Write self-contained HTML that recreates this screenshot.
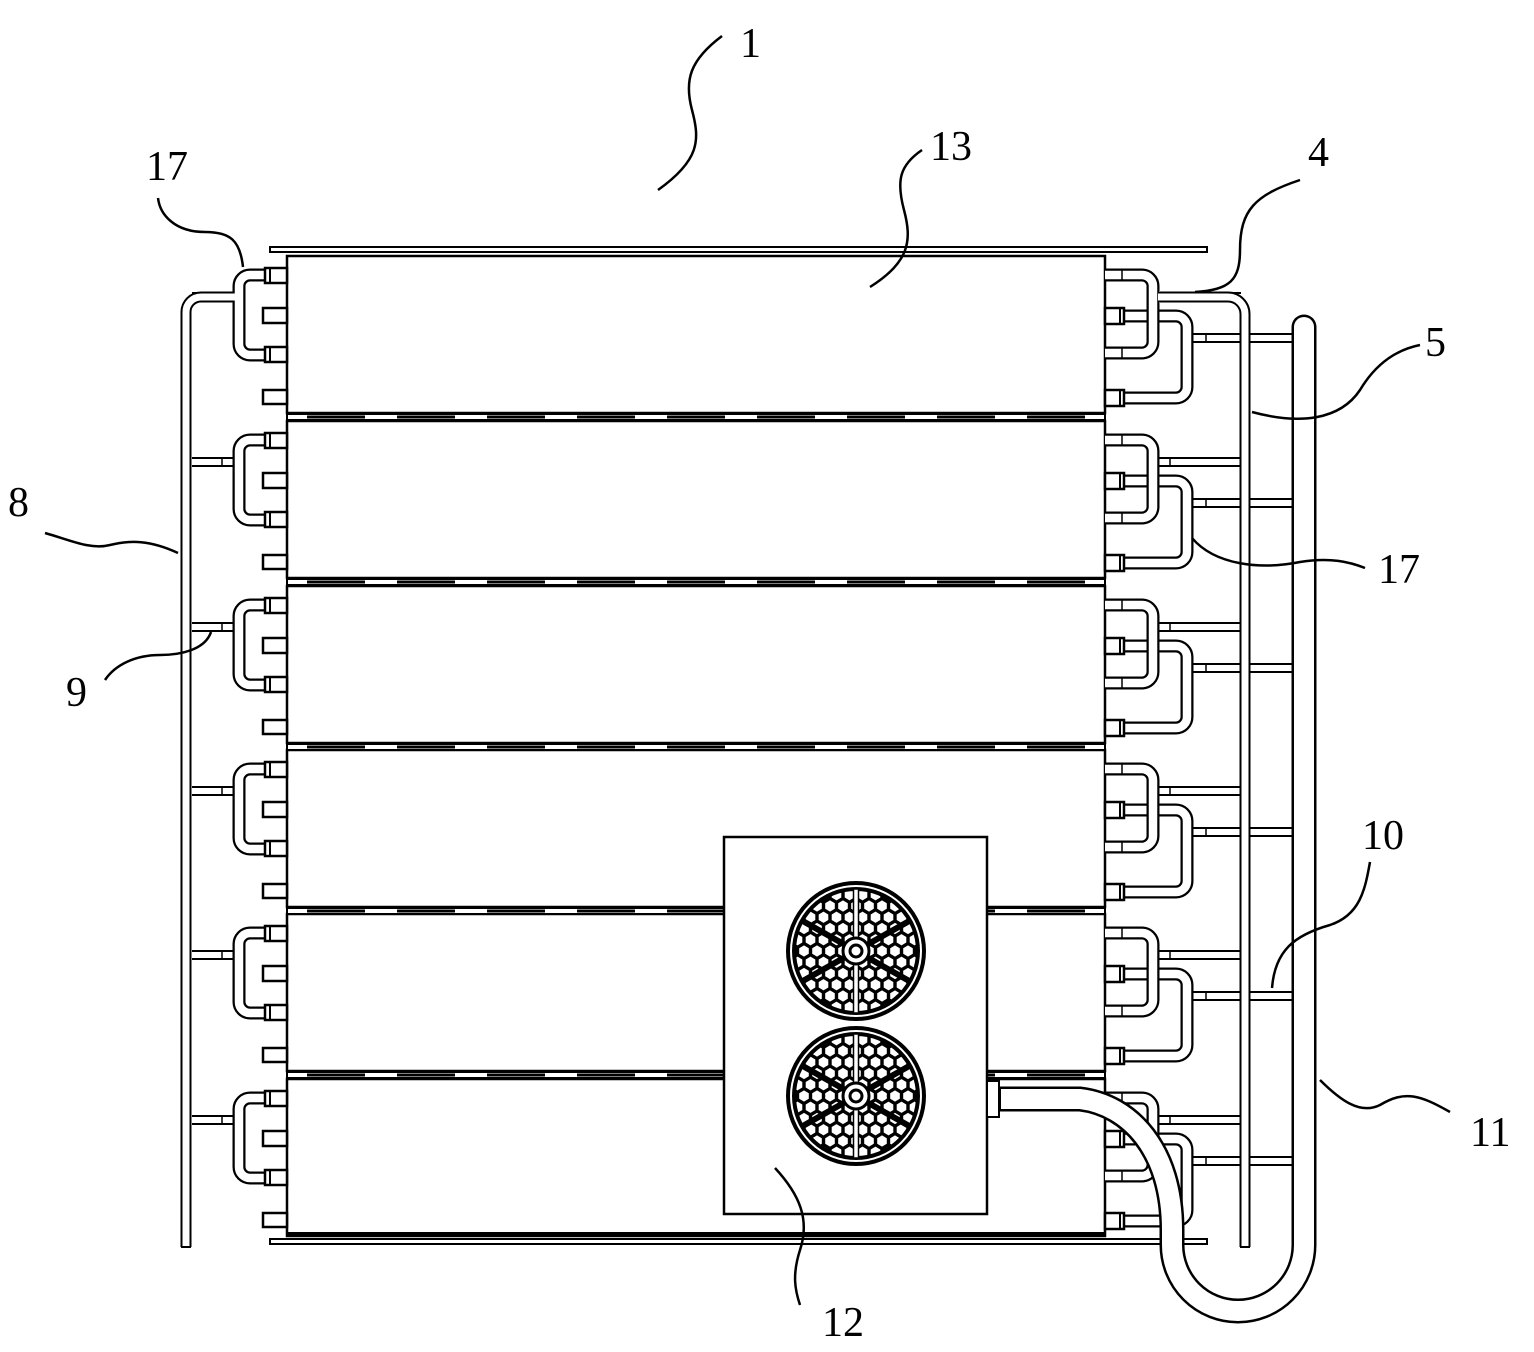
<!DOCTYPE html>
<html><head><meta charset="utf-8"><style>
html,body{margin:0;padding:0;background:#fff}
svg{display:block}
text{font-family:"Liberation Serif","Noto Serif CJK SC",serif;font-size:42px;fill:#000}
</style></head><body>
<svg width="1534" height="1352" viewBox="0 0 1534 1352" xmlns="http://www.w3.org/2000/svg">
<defs>
<pattern id="hex" width="13" height="22.5" patternUnits="userSpaceOnUse">
<rect width="13" height="22.5" fill="#000"/>
<g fill="#fff">
<polygon points="0,-5.6 4.8,-2.8 4.8,2.8 0,5.6 -4.8,2.8 -4.8,-2.8"/>
<polygon transform="translate(13,0)" points="0,-5.6 4.8,-2.8 4.8,2.8 0,5.6 -4.8,2.8 -4.8,-2.8"/>
<polygon transform="translate(6.5,11.25)" points="0,-5.6 4.8,-2.8 4.8,2.8 0,5.6 -4.8,2.8 -4.8,-2.8"/>
<polygon transform="translate(0,22.5)" points="0,-5.6 4.8,-2.8 4.8,2.8 0,5.6 -4.8,2.8 -4.8,-2.8"/>
<polygon transform="translate(13,22.5)" points="0,-5.6 4.8,-2.8 4.8,2.8 0,5.6 -4.8,2.8 -4.8,-2.8"/>
</g>
</pattern>
<g id="row">
<rect x="287" y="256" width="818" height="157" fill="#fff" stroke="#000" stroke-width="2.5"/>
<path d="M192,297 H234" stroke="#000" stroke-width="10" fill="none"/>
<path d="M190,297 H234" stroke="#fff" stroke-width="6" fill="none"/>
<line x1="222" y1="293" x2="222" y2="301" stroke="#000" stroke-width="1.5"/>
<path d="M266,275 H250 a11,11 0 0 0 -11,11 V344 a11,11 0 0 0 11,11 H266" stroke="#000" stroke-width="13" fill="none"/>
<path d="M266,275 H250 a11,11 0 0 0 -11,11 V344 a11,11 0 0 0 11,11 H266" stroke="#fff" stroke-width="8.5" fill="none"/>
<g fill="#fff" stroke="#000" stroke-width="2.5">
<rect x="265" y="268" width="22" height="15"/>
<rect x="265" y="347" width="22" height="15"/>
<rect x="263" y="308" width="24" height="15"/>
<rect x="263" y="390" width="24" height="14"/>
</g>
<line x1="270" y1="268" x2="270" y2="283" stroke="#000" stroke-width="2"/>
<line x1="270" y1="347" x2="270" y2="362" stroke="#000" stroke-width="2"/>
<path d="M1190,338 H1298" stroke="#000" stroke-width="10" fill="none"/>
<path d="M1190,338 H1300" stroke="#fff" stroke-width="6" fill="none"/>
<line x1="1206" y1="334" x2="1206" y2="342" stroke="#000" stroke-width="1.5"/>
<path d="M1155,297 H1241" stroke="#000" stroke-width="10" fill="none"/>
<path d="M1155,297 H1243" stroke="#fff" stroke-width="6" fill="none"/>
<line x1="1170" y1="293" x2="1170" y2="301" stroke="#000" stroke-width="1.5"/>
<path d="M1124,316 H1176 a11,11 0 0 1 11,11 V387 a11,11 0 0 1 -11,11 H1124" stroke="#000" stroke-width="13" fill="none"/>
<path d="M1124,316 H1176 a11,11 0 0 1 11,11 V387 a11,11 0 0 1 -11,11 H1124" stroke="#fff" stroke-width="8.5" fill="none"/>
<path d="M1105,275 H1142 a11,11 0 0 1 11,11 V342 a11,11 0 0 1 -11,11 H1105" stroke="#000" stroke-width="13" fill="none"/>
<path d="M1105,275 H1142 a11,11 0 0 1 11,11 V342 a11,11 0 0 1 -11,11 H1105" stroke="#fff" stroke-width="8.5" fill="none"/>
<line x1="1122" y1="270" x2="1122" y2="280" stroke="#000" stroke-width="1.5"/>
<line x1="1122" y1="348" x2="1122" y2="358" stroke="#000" stroke-width="1.5"/>
<g fill="#fff" stroke="#000" stroke-width="2.5">
<rect x="1105" y="308" width="19" height="16"/>
<rect x="1105" y="390" width="19" height="16"/>
</g>
<line x1="1120" y1="308" x2="1120" y2="324" stroke="#000" stroke-width="2"/>
<line x1="1120" y1="390" x2="1120" y2="406" stroke="#000" stroke-width="2"/>
</g>
<g id="strip">
<rect x="287" y="414" width="818" height="6" fill="#fff" stroke="#000" stroke-width="2"/>
<g stroke="#000" stroke-width="3">
<line x1="307" y1="417" x2="365" y2="417"/><line x1="397" y1="417" x2="455" y2="417"/>
<line x1="487" y1="417" x2="545" y2="417"/><line x1="577" y1="417" x2="635" y2="417"/>
<line x1="667" y1="417" x2="725" y2="417"/><line x1="757" y1="417" x2="815" y2="417"/>
<line x1="847" y1="417" x2="905" y2="417"/><line x1="937" y1="417" x2="995" y2="417"/>
<line x1="1027" y1="417" x2="1085" y2="417"/>
</g>
</g>
<g id="fan">
<circle r="68" fill="#fff" stroke="#000" stroke-width="4"/>
<circle r="62" fill="url(#hex)" stroke="#000" stroke-width="4"/>
<g stroke="#000" stroke-width="6">
<line x1="0" y1="0" x2="55" y2="-31"/><line x1="0" y1="0" x2="-55" y2="-31"/>
<line x1="0" y1="0" x2="55" y2="31"/><line x1="0" y1="0" x2="-55" y2="31"/>
</g>
<rect x="-2.5" y="-62" width="5" height="124" fill="#fff" stroke="#000" stroke-width="1.5"/>
<circle r="13" fill="#fff" stroke="#000" stroke-width="3"/>
<circle r="6" fill="#fff" stroke="#000" stroke-width="3"/>
</g>
</defs>

<rect x="270" y="247" width="937" height="5" fill="#fff" stroke="#000" stroke-width="2"/>
<rect x="270" y="1239" width="937" height="5" fill="#fff" stroke="#000" stroke-width="2"/>

<use href="#row"/>
<use href="#row" transform="translate(0,165)"/>
<use href="#row" transform="translate(0,330)"/>
<use href="#row" transform="translate(0,494)"/>
<use href="#row" transform="translate(0,658)"/>
<use href="#row" transform="translate(0,823)"/>
<use href="#strip"/>
<use href="#strip" transform="translate(0,165)"/>
<use href="#strip" transform="translate(0,330)"/>
<use href="#strip" transform="translate(0,494)"/>
<use href="#strip" transform="translate(0,658)"/>
<rect x="287" y="1232" width="818" height="4" fill="#000"/>

<path d="M234,297 H201 a15,15 0 0 0 -15,15 V1247" stroke="#000" stroke-width="11" fill="none"/>
<path d="M236,297 H201 a15,15 0 0 0 -15,15 V1247" stroke="#fff" stroke-width="7" fill="none"/>
<line x1="181" y1="1247" x2="191" y2="1247" stroke="#000" stroke-width="2"/>
<path d="M1160,297 H1228 a17,17 0 0 1 17,17 V1247" stroke="#000" stroke-width="11" fill="none"/>
<path d="M1158,297 H1228 a17,17 0 0 1 17,17 V1247" stroke="#fff" stroke-width="7" fill="none"/>
<line x1="1240" y1="1247" x2="1250" y2="1247" stroke="#000" stroke-width="2"/>

<rect x="724" y="837" width="263" height="377" fill="#fff" stroke="#000" stroke-width="2.5"/>
<rect x="987" y="1081" width="12" height="36" fill="#fff" stroke="#000" stroke-width="2"/>
<use href="#fan" transform="translate(856,951)"/>
<use href="#fan" transform="translate(856,1096)"/>

<path d="M999,1099 H1080 C1130,1105 1172,1150 1172,1230 V1245 a66,66 0 0 0 132,0 V335" stroke="#000" stroke-width="25" fill="none"/>
<path d="M1304,345 V327" stroke="#000" stroke-width="25" fill="none" stroke-linecap="round"/>
<path d="M1001,1099 H1080 C1130,1105 1172,1150 1172,1230 V1245 a66,66 0 0 0 132,0 V335" stroke="#fff" stroke-width="20" fill="none"/>
<path d="M1304,345 V327" stroke="#fff" stroke-width="20" fill="none" stroke-linecap="round"/>

<g stroke="#000" stroke-width="2.5" fill="none">
<path d="M658,190 C700,160 700,140 692,110 C684,80 690,60 722,36"/>
<path d="M870,287 C910,262 912,240 904,210 C896,180 900,165 922,150"/>
<path d="M243,267 C240,240 230,232 205,232 C175,232 160,215 158,198"/>
<path d="M1195,292 C1230,290 1240,280 1240,250 C1240,210 1255,195 1300,180"/>
<path d="M1252,412 C1300,425 1340,420 1360,390 C1375,365 1395,350 1420,345"/>
<path d="M178,553 C150,540 130,540 110,545 C90,550 70,540 45,533"/>
<path d="M1192,538 C1215,565 1260,570 1300,562 C1330,557 1350,562 1365,568"/>
<path d="M211,632 C205,650 180,655 160,655 C135,655 115,665 105,680"/>
<path d="M1272,988 C1275,950 1295,935 1330,925 C1360,915 1365,890 1370,862"/>
<path d="M1320,1080 C1340,1100 1360,1115 1380,1105 C1405,1090 1420,1095 1450,1112"/>
<path d="M775,1168 C800,1195 810,1220 800,1250 C792,1275 795,1290 800,1305"/>
</g>

<text x="740" y="57">1</text>
<text x="930" y="160">13</text>
<text x="1308" y="166">4</text>
<text x="1425" y="356">5</text>
<text x="146" y="180">17</text>
<text x="8" y="516">8</text>
<text x="1378" y="583">17</text>
<text x="66" y="706">9</text>
<text x="1362" y="849">10</text>
<text x="1470" y="1146">11</text>
<text x="822" y="1336">12</text>
</svg>
</body></html>
